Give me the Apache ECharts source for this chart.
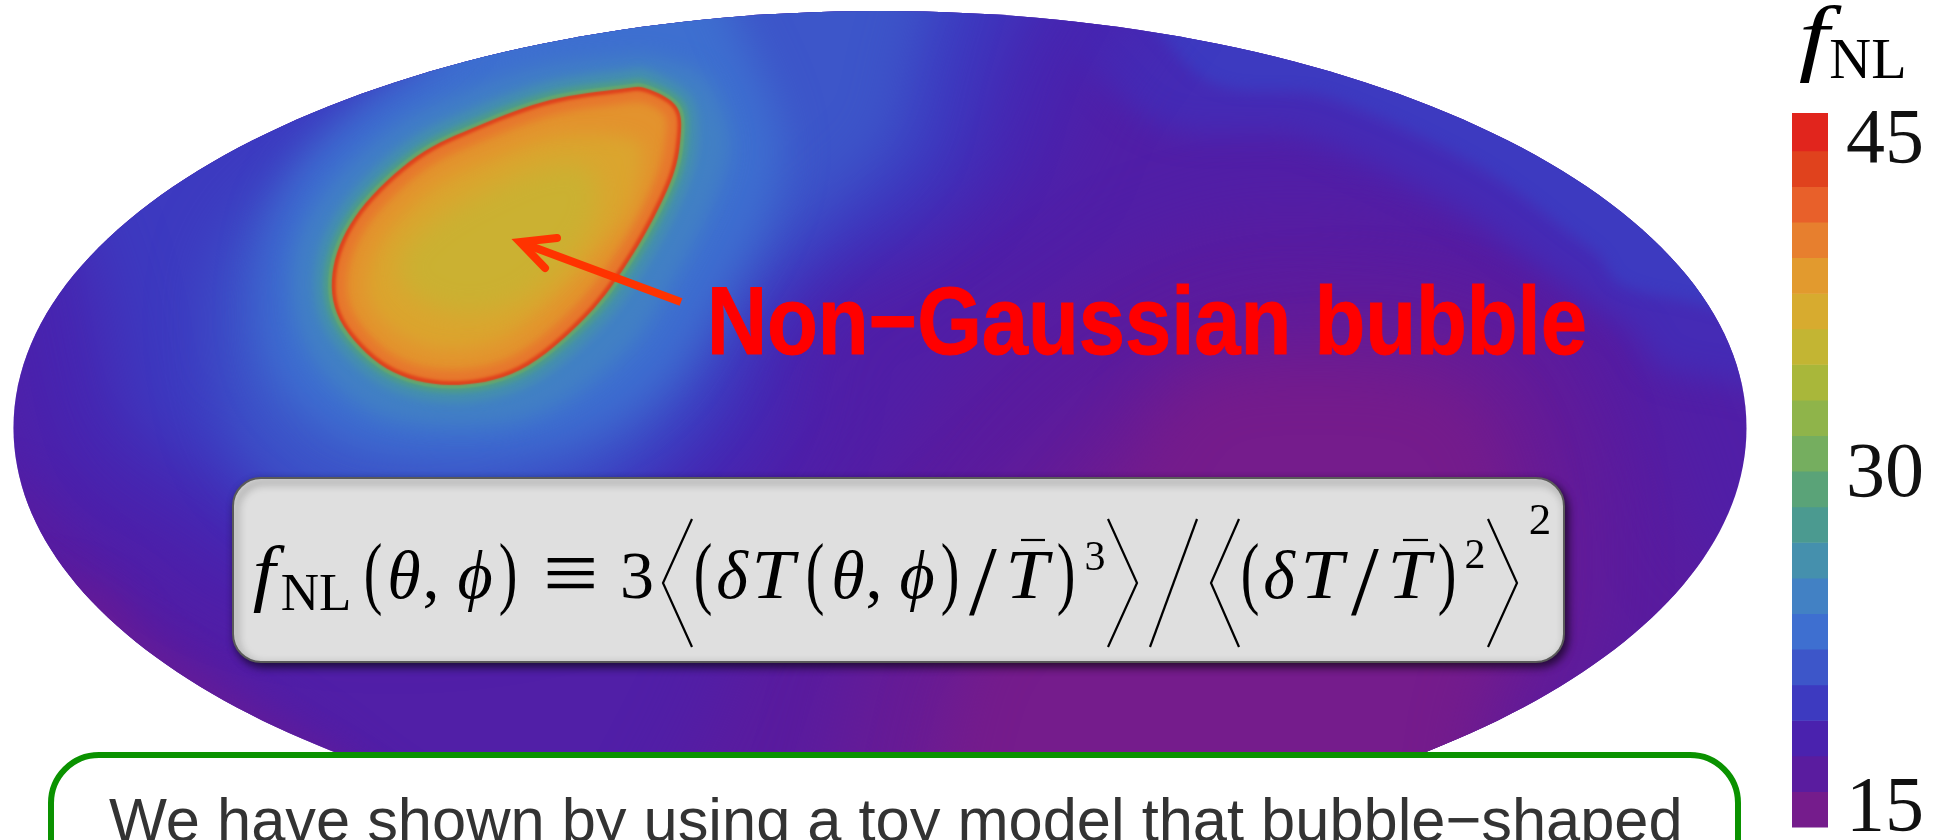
<!DOCTYPE html>
<html><head><meta charset="utf-8"><style>html,body{margin:0;background:#fff}#c{width:1942px;height:840px}</style>
<script src="https://cdn.jsdelivr.net/npm/echarts@6/dist/echarts.min.js"></script></head>
<body><div id="c"></div>
<script>
// Colour bar, bottom to top
const colorbarColors = ['#751c8c','#5a1c9f','#4a22ae','#3d3ac0','#3d56c9','#3e6fd0','#4281c4','#4590ad','#4b9a90','#5aa378','#75ae5f','#8fb44a','#a9b73a','#c3b533','#d7ab2f','#e29a2e','#e77f2e','#e8602a','#e0421d','#e1251d'];
const colorbarLower = [14.2,15.8,17.4,19.0,20.6,22.2,23.8,25.4,27.0,28.6,30.2,31.8,33.4,35.0,36.6,38.2,39.8,41.4,43.0,44.6];
const colorbarTop = 46.3;
const colorbarTicks = [15,30,45];
// Sky map half-axes, in map units
const skyRadii = [173.3,83.4];
const skyBaseValue = 17.5;
// f_NL contours: [x,y] in map units
const purpleA = [[80,42],[115,38],[140,26],[150,8],[158,-10],[168,-30],[220,-40],[220,-140],[-40,-140],[-30,-50],[-16,-30],[4,-6],[11,4],[24,18],[38,28],[58,38]];
const purpleB = [[69,20],[100,24],[125,18],[138,2],[142,-20],[140,-45],[125,-70],[110,-140],[-10,-140],[-6,-55],[8,-30],[30,-8],[48,8]];
const purpleC = [[63,10],[90,13],[115,9],[126,-8],[128,-35],[120,-58],[100,-140],[10,-140],[14,-55],[35,-25],[50,-6]];
const rimLowerA = [[-176,-10],[-160,-22],[-146,-36],[-125,-52],[-105,-66],[-90,-84],[-90,-140],[-240,-140],[-240,-10]];
const rimLowerB = [[-165,-30],[-145,-44],[-122,-60],[-100,-74],[-85,-90],[-85,-140],[-240,-140],[-240,-30]];
const rimUpperA = [[20,130],[48,66],[85,58],[115,44],[135,30],[150,20],[165,10],[240,10],[240,130]];
const rimUpperB = [[40,130],[60,74],[90,66],[120,52],[142,36],[158,26],[240,20],[240,130]];
const haloA = [[46,130],[38,62],[26,45],[6,33],[-12,24],[-16,4],[-26,-14],[-50,-28],[-86,-36],[-120,-34],[-148,-20],[-168,-4],[-176,28],[-180,50],[-240,60],[-240,130]];
const haloB = [[26,130],[22,70],[12,46],[-8,34],[-24,22],[-28,6],[-40,-8],[-60,-20],[-86,-28],[-115,-24],[-135,-10],[-150,0],[-156,26],[-165,50],[-175,70],[-170,130]];
const haloC = [[10,130],[6,66],[0,53],[-14,40],[-26,26],[-36,10],[-50,-6],[-70,-16],[-92,-20],[-115,-16],[-130,0],[-133,28],[-125,44],[-108,58],[-90,72],[-85,130]];
const haloD = [[-42,110],[-30,84],[-20,60],[-22,44],[-32,26],[-44,8],[-62,-3],[-86,-6],[-108,-2],[-122,12],[-123,34],[-116,52],[-102,66],[-86,78],[-70,110]];
const haloE = [[-45.5,74],[-35,70],[-30,58],[-33,46],[-41,30],[-51,15],[-68,3],[-86,0.5],[-103,4],[-115,17],[-117,34],[-110,48],[-97,60],[-83,67],[-68,72],[-52,74]];
const haloF = [[-46.2,71.3],[-38,66.3],[-36.5,58],[-38.8,47.9],[-46.3,33.2],[-56.1,20],[-70.5,8.5],[-86,5.2],[-100.6,9.1],[-111.2,20.3],[-112.6,33.2],[-106.7,45.6],[-94.6,57.1],[-81.4,63.7],[-66.9,68.9],[-52,71.2]];
const haloG = [[-46.5,69.5],[-39.4,65.3],[-38.3,58],[-40.5,48.4],[-47.9,34.1],[-57.5,21.2],[-71.3,10.2],[-86,7],[-99.6,10.6],[-109.5,21],[-110.9,32.7],[-105.3,44.6],[-93.6,55.6],[-80.6,62.1],[-66.4,67.2],[-52,69.4]];
const haloH = [[-46.6,68.6],[-40.1,64.7],[-39.2,58],[-41.3,48.7],[-48.7,34.5],[-58.2,21.8],[-71.7,11],[-86,7.9],[-99.1,11.3],[-108.7,21.3],[-110,32.5],[-104.6,44],[-93.1,54.9],[-80.3,61.2],[-66.2,66.3],[-52,68.5]];
const bubbleEdge = [[-46.7,67.9],[-40.7,64.3],[-39.9,58],[-42,48.9],[-49.3,34.9],[-58.7,22.3],[-72,11.6],[-86,8.6],[-98.7,11.9],[-108,21.6],[-109.3,32.3],[-104,43.6],[-92.7,54.3],[-80,60.6],[-66,65.6],[-52,67.8]];
const bubbleIn1 = [[-46.8,67.1],[-41.3,63.8],[-40.7,58],[-42.8,49.1],[-50,35.3],[-59.3,22.8],[-72.4,12.3],[-86,9.4],[-98.3,12.6],[-107.3,21.9],[-108.5,32.1],[-103.4,43.1],[-92.3,53.6],[-79.7,59.9],[-65.8,64.8],[-52,67]];
const bubbleIn2 = [[-47.2,65],[-43.1,62.5],[-42.9,58],[-44.9,49.8],[-51.9,36.4],[-61,24.3],[-73.4,14.3],[-86,11.6],[-97.1,14.4],[-105.2,22.7],[-106.4,31.6],[-101.6,41.8],[-91,51.8],[-78.8,57.8],[-65.2,62.7],[-52,64.8]];
const bubbleIn3 = [[-50,58],[-47.5,54],[-50,44],[-56,36],[-64,27],[-75,18],[-86,15.6],[-95,18],[-101.5,24],[-102.5,31],[-98.4,39.4],[-89,48.5],[-77,54.2],[-64,58.5]];
const bubbleCore = [[-58,52],[-57,42],[-64,32],[-73,25],[-84,23],[-94,27],[-96,34],[-90,41],[-80,47],[-68,52]];
// Drawn in this order: outline, f_NL value
const fieldContours = [
 [purpleA,16.6],[purpleB,15.8],[purpleC,15.0],[rimLowerA,16.8],[rimLowerB,15.8],[rimUpperA,18.8],[rimUpperB,19.8],
 [haloA,18.4],[haloB,19.8],[haloC,21.4],[haloD,23.0],[haloE,24.6],[haloF,26.2],[haloG,28.0],[haloH,30.0],
 [bubbleEdge,43.8],[bubbleIn1,41.0],[bubbleIn2,39.4],[bubbleIn3,38.0],[bubbleCore,36.4]
];
const fieldBlur = [70,70,60,36,36,30,14,70,70,60,42,22,10,4,2,1.5,3,9,18,26];
const arrowShaft = [[-39.8,25.2],[-71,36.8]];
const arrowHead = [[-64.6,38],[-72,37.2],[-67,32]];

const FONT_SERIF='"Liberation Serif"';
const layoutGlyphs = [
 ['f',264,600,74,1,1.1],['NL',316,612,53,0,1],['(',373,602,80,0,.7],['θ',404,601,68,1,1],[',',431,601,68,0,1],['ϕ',475,601,68,1,1],[')',508,602,80,0,.7],
 ['≡',571,606,90,0,1.1],['3',637,601,68,0,1],['(',703,602,80,0,.7],['δ',732,601,68,1,1],['T',773,601,70,1,1.1],['(',815,602,80,0,.7],['θ',848,601,68,1,1],[',',874,601,68,0,1],['ϕ',917,601,68,1,1],[')',950,602,80,0,.7],
 ['/',983,618,100,0,1],['T',1027,601,70,1,1.1],[')',1066,602,80,0,.7],['3',1095,572,42,0,1],
 ['(',1250,602,80,0,.7],['δ',1279,601,68,1,1],['T',1322,601,70,1,1.1],['/',1365,618,100,0,1],['T',1409,601,70,1,1.1],[')',1447,602,80,0,.7],['2',1475,570,42,0,1],['2',1540,536,45,0,1]
];
const layoutLines = [
 [[692,519],[663,583],[692,647]],[[1108,519],[1137,583],[1108,647]],[[1197,519],[1150,647]],[[1239,519],[1211,583],[1239,647]],[[1488,519],[1517,583],[1488,647]],
 [[1021,540],[1045,540]],[[1403,540],[1428,540]]
];
const gfx=[];
function txt(s,x,base,size,o){o=o||{};gfx.push({type:'text',x:x,y:base-0.3*size,z:o.z||20,scaleX:o.sx||1,style:Object.assign({text:s,fill:'#000',textAlign:o.align||'center',verticalAlign:'middle',font:(o.italic?'italic ':'')+(o.bold?'bold ':'')+size+'px '+(o.family||FONT_SERIF)},o.style||{})});}
gfx.push({type:'rect',z:10,shape:{x:51,y:755,width:1687,height:220,r:48},style:{fill:'#fff',stroke:'#0a9200',lineWidth:6}});
txt('We have shown by using a toy model that bubble−shaped',109,843,62,{align:'left',sx:0.99,family:'"Liberation Sans"',style:{fill:'#333'},z:11});
gfx.push({type:'rect',z:10,shape:{x:233,y:478,width:1331,height:184,r:28},style:{fill:'#dfdfdf',stroke:'#5a5a5a',lineWidth:2,shadowColor:'rgba(0,0,0,0.65)',shadowBlur:9,shadowOffsetX:3,shadowOffsetY:4}});
layoutGlyphs.forEach(g=>txt(g[0],g[1],g[2],g[3],{italic:g[4],sx:g[5]}));
layoutLines.forEach(l=>gfx.push({type:'polyline',z:20,shape:{points:l},style:{fill:null,stroke:'#000',lineWidth:2.2}}));
txt('Non−Gaussian bubble',707,356,97,{align:'left',bold:1,family:'"Liberation Sans"',sx:0.857,style:{fill:'#ff0000',stroke:'#ff0000',lineWidth:1,shadowColor:'rgba(10,0,40,0.8)',shadowBlur:6,shadowOffsetX:3,shadowOffsetY:4},z:15});
txt('f',1814,68,84,{italic:1,sx:1.3});
txt('NL',1868,80,58);

// closed curve through the contour's points
function closedCurve(p){const out=[],n=p.length;for(let i=0;i<n;i++){const a=p[(i+n-1)%n],b=p[i],c=p[(i+1)%n],d=p[(i+2)%n];
 for(let k=0;k<8;k++){const t=k/8,t2=t*t,t3=t2*t;out.push([0,1].map(j=>0.5*(2*b[j]+(c[j]-a[j])*t+(2*a[j]-5*b[j]+4*c[j]-d[j])*t2+(3*b[j]-a[j]-3*c[j]+d[j])*t3)));}}return out;}
const OFF=5000; // only a contour's soft shadow lands on the map

const chart=echarts.init(document.getElementById('c'),null,{renderer:'canvas'});
const skyItems=[[-1,skyBaseValue]].concat(fieldContours.map((c,i)=>[i,c[1]]));
chart.setOption({
 animation:false,backgroundColor:'#fff',
 grid:[{left:10,top:8,width:1740,height:840,outerBoundsMode:'none'},{left:1792,top:113,width:36,height:714,outerBoundsMode:'none'}],
 xAxis:[{type:'value',gridIndex:0,min:-174,max:174,show:false},{type:'value',gridIndex:1,min:0,max:1,show:false}],
 yAxis:[{type:'value',gridIndex:0,min:-84,max:84,show:false},
  {type:'value',gridIndex:1,position:'right',min:colorbarLower[0],max:colorbarTop,splitLine:{show:false},axisLine:{show:false},axisTick:{show:false},
   axisLabel:{customValues:colorbarTicks,margin:18,color:'#111',fontFamily:FONT_SERIF,fontSize:78,padding:[6,0,0,0]}}],
 visualMap:[{show:false,type:'continuous',seriesIndex:0,dimension:1,min:15,max:45.4,inRange:{color:colorbarColors}}],
 series:[
  {type:'custom',xAxisIndex:0,yAxisIndex:0,clip:false,silent:true,encode:{x:0,y:1},data:skyItems,
   renderItem(params,api){
    const i=api.value(0),c=api.coord([0,0]),s=api.size(skyRadii),col=api.visual('color');
    const clip={type:'ellipse',shape:{cx:c[0],cy:c[1],rx:s[0],ry:s[1]}};
    if(i<0) return {type:'ellipse',shape:{cx:c[0],cy:c[1],rx:s[0],ry:s[1]},style:{fill:col}};
    const pts=closedCurve(fieldContours[i][0].map(p=>api.coord(p))).map(p=>[p[0]-OFF,p[1]]);
    return {type:'polygon',clipPath:clip,shape:{points:pts},
     style:{fill:col,shadowColor:col,shadowBlur:fieldBlur[i],shadowOffsetX:OFF}};
   }},
  {type:'custom',xAxisIndex:1,yAxisIndex:1,clip:false,silent:true,encode:{x:0,y:1},data:colorbarLower.map((v,i)=>[i,v]),
   renderItem(params,api){
    const i=api.value(0),lo=colorbarLower[i],hi=i+1<colorbarLower.length?colorbarLower[i+1]:colorbarTop;
    const a=api.coord([0,hi]),b=api.coord([1,lo]);
    return {type:'rect',shape:{x:a[0],y:a[1],width:b[0]-a[0],height:b[1]-a[1]+0.5},style:{fill:colorbarColors[i]}};
   }},
  {type:'custom',xAxisIndex:0,yAxisIndex:0,clip:false,silent:true,z:8,encode:{x:0,y:1},data:[[0,0]],
   renderItem(params,api){
    const st={fill:null,stroke:'#ff3300',lineWidth:8,lineCap:'round',lineJoin:'miter'};
    return {type:'group',children:[
     {type:'polyline',shape:{points:arrowShaft.map(p=>api.coord(p))},style:Object.assign({},st,{lineCap:'butt'})},
     {type:'polyline',shape:{points:arrowHead.map(p=>api.coord(p))},style:st}]};
   }}
 ],
 graphic:{elements:gfx}
});
</script></body></html>
